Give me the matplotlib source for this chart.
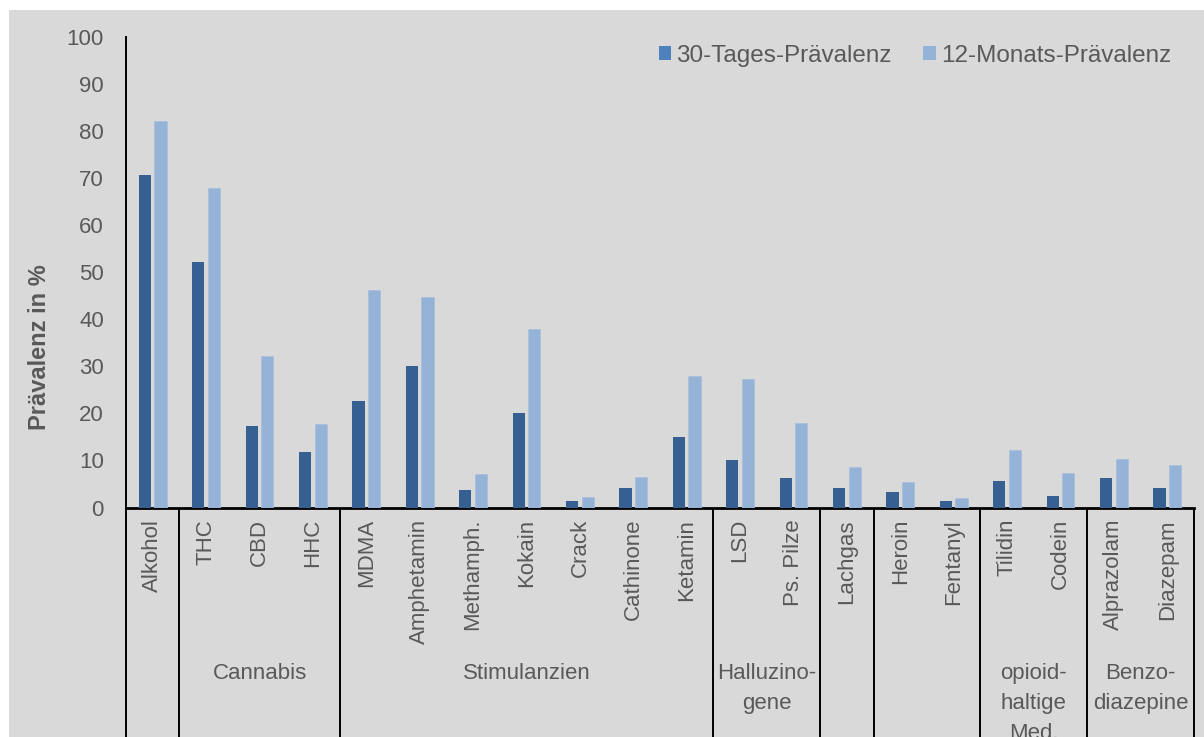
import matplotlib
matplotlib.use("Agg")
import matplotlib.pyplot as plt
from matplotlib.patches import Rectangle, Patch
import numpy as np

plt.rcParams['font.family'] = ['Liberation Sans', 'DejaVu Sans']

# --- data -------------------------------------------------------------
substances = ["Alkohol", "THC", "CBD", "HHC", "MDMA", "Amphetamin", "Methamph.",
              "Kokain", "Crack", "Cathinone", "Ketamin", "LSD", "Ps. Pilze",
              "Lachgas", "Heroin", "Fentanyl", "Tilidin", "Codein",
              "Alprazolam", "Diazepam"]
prev_30d = [70.7, 52.2, 17.4, 11.9, 22.7, 30.1, 3.8, 20.0, 1.3, 4.2, 14.9,
            10.2, 6.2, 4.2, 3.2, 1.3, 5.7, 2.5, 6.2, 4.2]
prev_12m = [82.1, 67.9, 32.3, 17.8, 46.2, 44.8, 7.1, 38.0, 2.2, 6.4, 27.9,
            27.4, 18.0, 8.6, 5.5, 2.0, 12.2, 7.4, 10.3, 9.0]
group_labels = ["", "Cannabis", "Stimulanzien", "Halluzino-\ngene", "", "",
                "opioid-\nhaltige\nMed.", "Benzo-\ndiazepine"]
group_sizes = [1, 3, 7, 2, 1, 2, 2, 2]
series_names = ["30-Tages-Prävalenz", "12-Monats-Prävalenz"]
y_ticks = [0, 10, 20, 30, 40, 50, 60, 70, 80, 90, 100]

# --- styling ----------------------------------------------------------
W, H = 1204, 737
dark = "#366092"
dark_legend = "#4f81bd"
light = "#95b3d7"
text_col = "#595959"
bg = "#d9d9d9"
fs = 16
fs_leg = 17.5

fig = plt.figure(figsize=(W / 100, H / 100), dpi=100)
fig.patches.append(Rectangle((9 / W, 0), 1, 1 - 10 / H, transform=fig.transFigure,
                             facecolor=bg, edgecolor="none", zorder=-10))

x0, x1 = 126, 1194
y0, y100 = 507.5, 37
ax = fig.add_axes([x0 / W, (H - y0) / H, (x1 - x0) / W, (y0 - y100) / H])
ax.set_facecolor("none")

x = np.arange(len(substances))
bw = 0.23
off = 0.145
ax.bar(x - off, prev_30d, width=bw, color=dark, zorder=3)
ax.bar(x + off, prev_12m, width=bw, color=light, edgecolor="#a8c0de",
       linewidth=0.6, zorder=3)

ax.set_xlim(-0.5, len(substances) - 0.5)
ax.set_ylim(0, 100)
ax.set_yticks(y_ticks)
ax.tick_params(axis="y", length=0, pad=16, labelsize=fs, labelcolor=text_col)
ax.set_xticks([])

for s in ["top", "right"]:
    ax.spines[s].set_visible(False)
ax.spines["bottom"].set_linewidth(2.0)
ax.spines["bottom"].set_color("black")
ax.spines["left"].set_linewidth(1.4)
ax.spines["left"].set_color("black")

# axes-fraction coordinate for a figure pixel row
px_per_unit = y0 - y100
def yfrac(py):
    return -(py - y0) / px_per_unit

trans = ax.get_xaxis_transform()
bottom_frac = yfrac(H + 2)

# left axis line continued through the category area
ax.plot([-0.5, -0.5], [0, bottom_frac], transform=trans, color="black",
        lw=1.4, clip_on=False, solid_capstyle="butt")

# group separators and group labels
pos = -0.5
for label, n in zip(group_labels, group_sizes):
    end = pos + n
    ax.plot([end, end], [0, bottom_frac], transform=trans, color="black",
            lw=1.4, clip_on=False, solid_capstyle="butt")
    if label:
        ax.text((pos + end) / 2, yfrac(663), label, transform=trans,
                ha="center", va="top", fontsize=fs, color=text_col,
                linespacing=1.55)
    pos = end

# rotated substance labels
for xi, name in zip(x, substances):
    ax.text(xi, yfrac(519), name, transform=trans, rotation=90,
            ha="center", va="top", fontsize=fs, color=text_col)

# y-axis title
fig.text(40 / W, 1 - 347 / H, "Prävalenz in %", rotation=90, ha="center",
         va="center", fontsize=17, fontweight="bold", color=text_col)

# legend
handles = [Patch(facecolor=dark_legend, edgecolor="none"),
           Patch(facecolor=light, edgecolor="none")]
fig.legend(handles, series_names, loc="center right", ncol=2,
           bbox_to_anchor=(1171 / W, 1 - 56 / H), frameon=False,
           fontsize=fs_leg, labelcolor=text_col, handlelength=0.52,
           handleheight=0.52, handletextpad=0.2, columnspacing=1.3,
           borderpad=0, borderaxespad=0)

fig.savefig("out.png", dpi=100)
